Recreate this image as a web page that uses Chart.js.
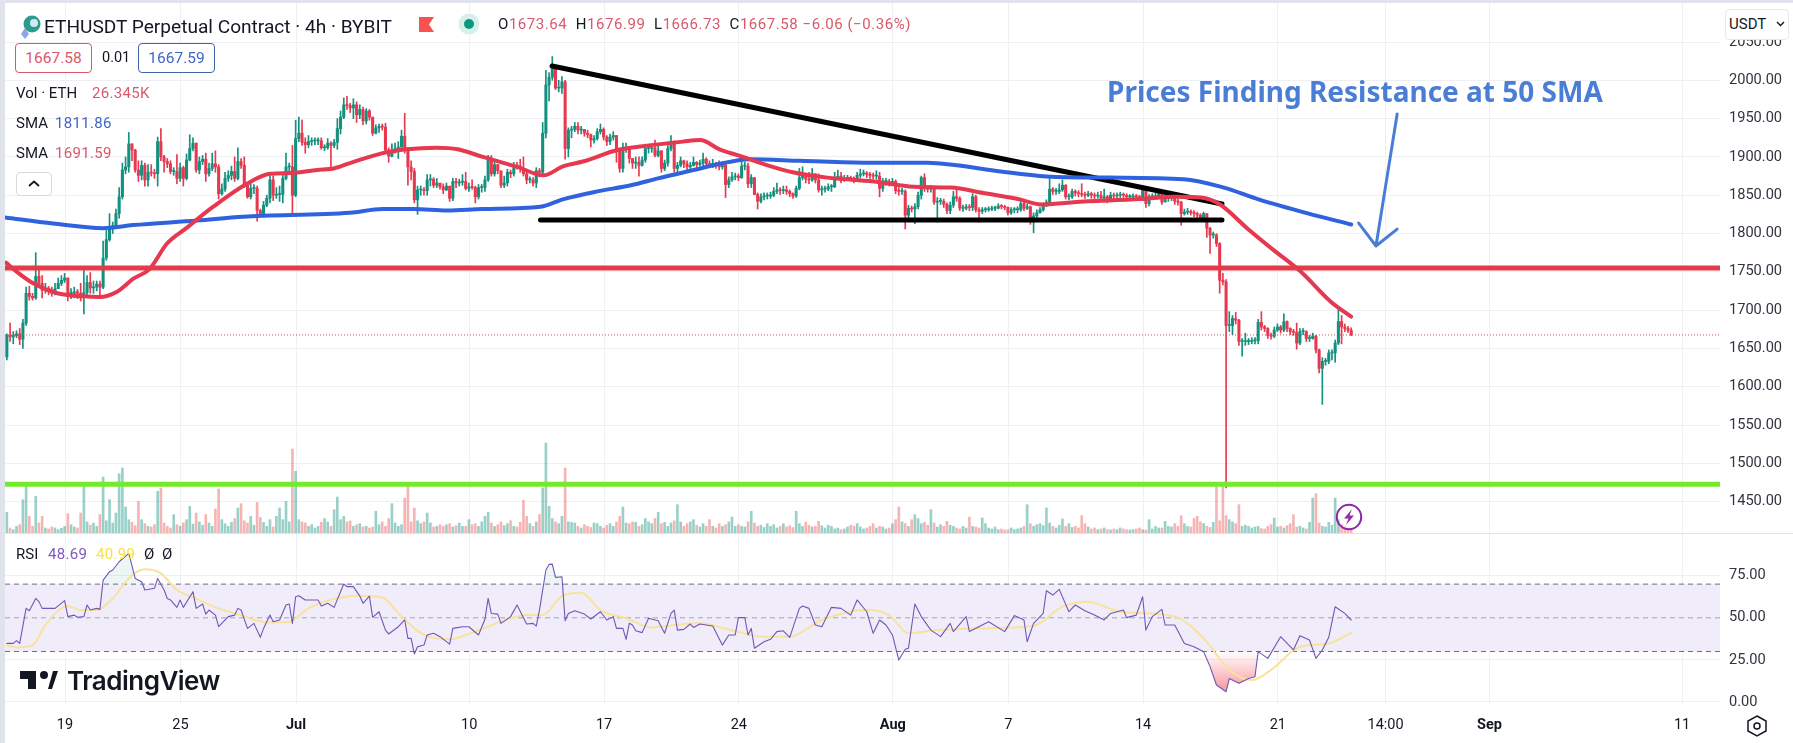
<!DOCTYPE html>
<html>
<head>
<meta charset="utf-8">
<title>ETHUSDT 4h</title>
<script src="https://cdn.jsdelivr.net/npm/chart.js@4"></script>
<style>
  html, body { margin: 0; padding: 0; background: #fff; }
  #page { position: relative; width: 1793px; height: 743px; overflow: hidden; font-family: Roboto, sans-serif; color: #131722; }
  canvas { position: absolute; left: 0; }
  #edgeLeft { position: absolute; left: 0; top: 0; width: 5px; height: 743px; background: #e0e3eb; }
  #edgeTop { position: absolute; left: 0; top: 0; width: 1793px; height: 3px; background: #e0e3eb; }
  #paneLine { position: absolute; left: 5px; top: 533px; width: 1788px; height: 1px; background: #e0e3eb; }
  .t { position: absolute; white-space: nowrap; line-height: 1; }
  .box { position: absolute; box-sizing: border-box; background: #fff; border-radius: 4px; text-align: center; font-size: 15.5px; line-height: 28px; }
  .red { color: #d9596a; }
  .blue { color: #3f66c4; }
  svg { position: absolute; overflow: visible; }
</style>
</head>
<body>
<div id="page">
  <canvas id="priceChart" width="1793" height="533" style="top:0"></canvas>
  <canvas id="rsiChart" width="1793" height="210" style="top:533px"></canvas>
  <div id="edgeLeft"></div><div id="edgeTop"></div><div id="paneLine"></div>

  <svg style="left:19px;top:14px" width="22" height="24"><circle cx="13" cy="10" r="8.5" fill="#2a9d8f"/><circle cx="15" cy="9" r="4" fill="#cfe9f5"/><path d="M6 14 L10 20 L6 25 L2 20 Z" fill="#8ea5e8"/></svg>
  <div class="t" style="left:44px;top:17px;font-size:19.1px">ETHUSDT Perpetual Contract · 4h · BYBIT</div>
  <svg style="left:419px;top:17px" width="16" height="15"><path d="M0 0 H15 L10 7.5 L15 15 H0 Z" fill="#f7524f"/></svg>
  <svg style="left:458px;top:13px" width="22" height="22"><circle cx="11" cy="11" r="10.5" fill="#d9efec"/><circle cx="11" cy="11" r="5" fill="#089981"/></svg>
  <div class="t" style="left:498px;top:17px;font-size:15px;letter-spacing:.55px">O<span class="red">1673.64</span>&nbsp; H<span class="red">1676.99</span>&nbsp; L<span class="red">1666.73</span>&nbsp; C<span class="red">1667.58</span> <span class="red">−6.06 (−0.36%)</span></div>

  <div class="box red" style="left:15px;top:43px;width:77px;height:30px;border:1px solid #d9596a">1667.58</div>
  <div class="t" style="left:102px;top:51px;font-size:14.5px">0.01</div>
  <div class="box blue" style="left:138px;top:43px;width:77px;height:30px;border:1px solid #3f66a4">1667.59</div>
  <div class="t" style="left:16px;top:86px;font-size:15px">Vol · ETH</div>
  <div class="t red" style="left:92px;top:86px;font-size:15px;letter-spacing:.3px">26.345K</div>
  <div class="t" style="left:16px;top:116px;font-size:15px">SMA</div>
  <div class="t blue" style="left:55px;top:116px;font-size:15px;letter-spacing:.3px">1811.86</div>
  <div class="t" style="left:16px;top:146px;font-size:15px">SMA</div>
  <div class="t red" style="left:55px;top:146px;font-size:15px;letter-spacing:.3px">1691.59</div>
  <div class="box" style="left:16px;top:172px;width:36px;height:24px;border:1px solid #d8dae0"></div>
  <svg style="left:28px;top:180px" width="12" height="8"><path d="M1 6 L6 1.5 L11 6" fill="none" stroke="#131722" stroke-width="1.8"/></svg>

  <div class="box" style="left:1725px;top:9px;width:64px;height:31px;border:1px solid #e6e8ee"></div>
  <div class="t" style="left:1729px;top:17px;font-size:15px">USDT</div>
  <svg style="left:1776px;top:21px" width="9" height="6"><path d="M1 1 L4.5 4.5 L8 1" fill="none" stroke="#131722" stroke-width="1.4"/></svg>

  <div class="t" id="callout" style="left:1107px;top:77px;font-size:28px;font-weight:700;color:#4a7ed6;font-family:'Noto Sans',sans-serif">Prices Finding Resistance at 50 SMA</div>

  <svg style="left:1336px;top:504px" width="26" height="26"><circle cx="13" cy="13" r="12.2" fill="none" stroke="#8e24aa" stroke-width="2"/><path d="M16 5 L8 14.5 H12.5 L10 21 L18 11.5 H13.5 Z" fill="#9c27b0"/></svg>

  <div class="t" style="left:16px;top:547px;font-size:15px">RSI</div>
  <div class="t" style="left:48px;top:547px;font-size:15px;letter-spacing:.3px;color:#7e57c2">48.69</div>
  <div class="t" style="left:96px;top:547px;font-size:15px;letter-spacing:.3px;color:#f5e342">40.99</div>
  <div class="t" style="left:144px;top:547px;font-size:15px">Ø</div>
  <div class="t" style="left:162px;top:547px;font-size:15px">Ø</div>

  <svg style="left:20px;top:671px" width="38" height="20"><path d="M0 0 H16 V18 H8 V8 H0 Z M24 0 A4 4 0 1 1 24 8 A4 4 0 1 1 24 0 Z M28 18 L33 0 H38 L32 18 Z" fill="#131722"/></svg>
  <div class="t" style="left:67px;top:668px;font-size:26px;font-weight:600;font-family:Inter,sans-serif;letter-spacing:-.5px">TradingView</div>

  <svg style="left:1746px;top:715px" width="22" height="22"><path d="M11 1 L20 6 V16 L11 21 L2 16 V6 Z" fill="none" stroke="#131722" stroke-width="1.5"/><circle cx="11" cy="11" r="3" fill="none" stroke="#131722" stroke-width="1.5"/></svg>
</div>

<script>
// 4h candles, one every sixth of a day
const firstCandleDay = -3.02;
const firstOpen = 1639;

const closes = [
  1667,1665,1667,1669,1662,1683,1722,1718,1716,1744,
  1735,1726,1728,1726,1722,1728,1735,1739,1742,1722,
  1722,1724,1722,1720,1723,1736,1729,1730,1734,1730,
  1768,1792,1809,1810,1826,1848,1883,1887,1917,1909,
  1883,1876,1889,1870,1880,1879,1878,1920,1900,1894,
  1891,1881,1881,1872,1886,1872,1896,1911,1918,1883,
  1894,1897,1878,1885,1891,1887,1852,1858,1872,1876,
  1881,1872,1894,1889,1863,1848,1859,1859,1830,1826,
  1837,1846,1870,1850,1851,1851,1872,1887,1887,1850,
  1924,1931,1919,1916,1920,1921,1921,1921,1912,1912,
  1918,1915,1919,1937,1952,1968,1967,1964,1968,1955,
  1962,1947,1960,1952,1931,1938,1940,1939,1909,1901,
  1909,1911,1913,1927,1911,1887,1881,1844,1857,1857,
  1856,1870,1871,1863,1866,1861,1857,1862,1846,1868,
  1866,1867,1868,1859,1861,1860,1848,1860,1860,1870,
  1898,1878,1890,1882,1863,1866,1880,1878,1889,1888,
  1885,1878,1870,1870,1866,1882,1880,1931,1994,2004,
  2018,1990,1990,1998,1911,1935,1936,1940,1935,1936,
  1931,1929,1922,1924,1933,1936,1926,1920,1926,1928,
  1909,1885,1911,1912,1898,1892,1893,1889,1896,1911,
  1911,1912,1902,1908,1885,1892,1911,1920,1885,1889,
  1895,1891,1887,1889,1893,1890,1892,1897,1891,1890,
  1890,1889,1887,1890,1864,1870,1874,1875,1873,1888,
  1888,1865,1873,1851,1842,1848,1849,1849,1850,1855,
  1857,1856,1857,1855,1852,1849,1859,1873,1876,1871,
  1870,1878,1870,1857,1858,1858,1861,1861,1873,1875,
  1869,1872,1873,1872,1870,1876,1878,1879,1877,1876,
  1875,1875,1859,1868,1868,1866,1868,1856,1855,1855,
  1824,1833,1832,1835,1850,1873,1859,1858,1859,1841,
  1842,1842,1838,1830,1837,1848,1846,1833,1833,1835,
  1834,1848,1831,1829,1831,1831,1832,1833,1833,1836,
  1835,1834,1827,1831,1831,1831,1839,1833,1835,1815,
  1823,1827,1831,1837,1841,1858,1855,1855,1857,1863,
  1848,1848,1855,1853,1852,1851,1850,1852,1850,1849,
  1850,1846,1848,1844,1850,1849,1850,1851,1850,1848,
  1848,1849,1848,1847,1859,1839,1848,1848,1849,1852,
  1841,1846,1846,1846,1842,1841,1826,1828,1829,1827,
  1826,1824,1820,1826,1807,1798,1798,1787,1739,1737,
  1680,1680,1689,1687,1659,1659,1659,1659,1660,1660,
  1684,1678,1676,1667,1666,1674,1678,1674,1685,1676,
  1672,1671,1657,1672,1672,1663,1663,1666,1648,1624,
  1633,1633,1644,1644,1657,1685,1678,1676,1673.64,1667.58
];
const highs = [
  1669,1683,1672,1673,1676,1688,1730,1731,1722,1775,
  1752,1745,1735,1731,1730,1735,1742,1745,1748,1742,
  1728,1730,1727,1735,1752,1745,1749,1738,1738,1738,
  1790,1804,1826,1815,1832,1860,1892,1900,1932,1917,
  1910,1895,1895,1892,1890,1890,1884,1926,1937,1902,
  1898,1895,1886,1903,1892,1888,1904,1929,1925,1918,
  1900,1902,1905,1892,1905,1908,1890,1865,1880,1882,
  1888,1900,1912,1898,1900,1866,1866,1864,1862,1832,
  1842,1850,1875,1875,1860,1862,1880,1905,1892,1915,
  1948,1952,1948,1925,1928,1925,1925,1925,1925,1916,
  1924,1920,1923,1950,1960,1977,1979,1970,1976,1972,
  1968,1965,1963,1962,1952,1942,1943,1943,1944,1912,
  1917,1918,1920,1935,1957,1912,1895,1885,1862,1862,
  1860,1877,1877,1873,1872,1865,1865,1866,1860,1872,
  1872,1871,1877,1880,1866,1870,1862,1864,1864,1875,
  1902,1902,1895,1890,1878,1875,1884,1883,1893,1893,
  1897,1900,1880,1874,1873,1886,1885,1945,2013,2010,
  2031,2012,2000,2005,2000,1938,1940,1945,1945,1940,
  1936,1935,1930,1928,1937,1943,1938,1928,1930,1933,
  1928,1909,1918,1918,1913,1898,1900,1900,1900,1914,
  1915,1916,1922,1918,1908,1896,1915,1928,1921,1893,
  1900,1896,1895,1893,1900,1894,1896,1905,1899,1895,
  1897,1893,1895,1894,1888,1874,1880,1879,1878,1897,
  1893,1892,1877,1873,1853,1852,1853,1853,1854,1860,
  1866,1860,1862,1862,1857,1853,1862,1885,1887,1878,
  1880,1885,1878,1878,1862,1862,1865,1864,1880,1883,
  1880,1876,1876,1875,1874,1880,1884,1883,1881,1880,
  1879,1882,1880,1872,1872,1871,1872,1870,1860,1859,
  1857,1837,1836,1839,1854,1875,1878,1862,1863,1860,
  1847,1846,1845,1840,1841,1855,1860,1848,1837,1838,
  1838,1852,1850,1834,1834,1834,1835,1836,1836,1839,
  1838,1837,1835,1834,1834,1835,1842,1842,1838,1836,
  1827,1831,1834,1840,1844,1874,1860,1859,1865,1870,
  1864,1852,1858,1857,1856,1865,1854,1855,1854,1853,
  1854,1855,1858,1850,1854,1853,1853,1854,1853,1852,
  1851,1852,1851,1850,1862,1860,1851,1852,1853,1855,
  1853,1850,1850,1849,1847,1845,1842,1832,1833,1831,
  1830,1828,1826,1828,1826,1808,1802,1800,1788,1748,
  1740,1698,1693,1697,1688,1663,1670,1663,1664,1664,
  1688,1698,1680,1677,1670,1678,1682,1680,1695,1686,
  1677,1675,1683,1676,1676,1673,1667,1670,1667,1649,
  1638,1637,1648,1648,1661,1703,1693,1682,1679,1676.99
];
const lows = [
  1635,1659,1656,1664,1655,1650,1680,1713,1713,1714,
  1730,1716,1722,1720,1718,1720,1728,1732,1736,1712,
  1715,1716,1715,1712,1695,1718,1722,1722,1725,1715,
  1728,1765,1790,1800,1810,1820,1845,1878,1880,1895,
  1880,1868,1870,1862,1862,1875,1872,1862,1895,1880,
  1886,1878,1876,1865,1868,1862,1870,1895,1908,1880,
  1878,1890,1868,1875,1882,1880,1845,1850,1855,1868,
  1870,1868,1870,1885,1860,1846,1845,1852,1816,1822,
  1826,1835,1840,1843,1846,1842,1840,1870,1880,1826,
  1848,1920,1915,1905,1912,1915,1916,1916,1910,1908,
  1910,1885,1912,1910,1930,1950,1962,1958,1950,1945,
  1950,1942,1943,1948,1928,1930,1932,1935,1905,1893,
  1900,1905,1898,1910,1905,1863,1870,1840,1825,1850,
  1850,1850,1862,1860,1860,1858,1852,1856,1842,1843,
  1860,1862,1863,1857,1855,1858,1840,1845,1854,1855,
  1868,1875,1875,1878,1860,1860,1862,1873,1875,1884,
  1880,1875,1865,1866,1862,1860,1874,1878,1925,1973,
  2000,1988,1985,1983,1897,1900,1925,1933,1930,1930,
  1927,1925,1913,1918,1922,1930,1922,1915,1916,1922,
  1893,1880,1880,1906,1892,1885,1885,1875,1888,1893,
  1905,1906,1900,1900,1880,1882,1888,1908,1880,1877,
  1887,1886,1883,1885,1888,1886,1888,1888,1887,1886,
  1886,1885,1883,1884,1847,1860,1868,1870,1869,1872,
  1883,1860,1860,1851,1832,1840,1844,1845,1846,1848,
  1852,1851,1852,1851,1848,1846,1847,1857,1870,1866,
  1865,1868,1866,1854,1850,1854,1856,1855,1860,1870,
  1866,1868,1869,1869,1866,1868,1873,1875,1873,1872,
  1871,1871,1848,1855,1863,1862,1863,1852,1850,1851,
  1806,1820,1828,1813,1832,1845,1855,1854,1854,1838,
  1815,1838,1834,1826,1826,1834,1842,1830,1829,1831,
  1830,1830,1828,1815,1826,1828,1829,1830,1830,1832,
  1832,1831,1824,1825,1827,1827,1829,1830,1831,1812,
  1801,1820,1827,1829,1835,1838,1851,1851,1852,1855,
  1845,1844,1846,1849,1848,1848,1846,1848,1846,1845,
  1846,1842,1844,1840,1842,1845,1846,1847,1847,1845,
  1845,1846,1845,1844,1845,1834,1836,1844,1845,1848,
  1838,1842,1842,1843,1838,1837,1811,1824,1825,1824,
  1822,1820,1816,1818,1795,1774,1794,1783,1722,1733,
  1468,1672,1668,1682,1654,1640,1654,1655,1656,1656,
  1656,1674,1672,1663,1662,1664,1672,1670,1672,1672,
  1668,1667,1649,1655,1668,1659,1659,1662,1644,1618,
  1577,1628,1630,1635,1632,1655,1656,1672,1671,1666.73
];
// thousands of ETH per candle
const volumes = [
  186,45,30,60,75,300,420,150,60,330,
  90,150,45,36,54,45,30,42,60,174,
  75,54,45,180,450,100,72,90,60,165,
  504,110,300,90,180,534,585,234,120,96,
  66,285,120,84,60,54,75,375,405,90,
  60,45,165,75,60,90,120,240,80,180,
  100,70,165,90,60,216,396,120,84,60,
  96,130,225,264,110,90,150,70,276,140,
  96,60,120,54,150,225,120,285,100,756,
  555,120,100,90,60,75,45,60,96,130,
  100,60,210,324,120,150,100,108,60,75,
  84,54,60,45,54,195,75,100,60,130,
  264,90,60,75,315,435,100,225,110,84,
  100,180,90,54,60,75,60,75,84,54,
  66,90,60,60,120,75,84,60,100,150,
  186,90,60,75,100,66,84,110,60,54,
  96,294,150,84,60,100,165,405,810,240,
  130,100,84,150,585,100,96,90,60,45,
  75,60,50,90,84,60,45,70,84,60,
  100,150,234,90,84,100,96,60,75,130,
  100,84,130,186,84,96,60,90,110,255,
  100,60,84,100,120,70,54,84,60,120,
  60,45,84,60,75,100,144,60,75,60,
  54,100,195,90,60,70,50,84,60,75,
  45,60,84,54,66,50,195,84,60,100,
  70,54,60,105,66,45,70,60,36,45,
  30,36,54,70,60,84,54,36,45,60,
  84,45,60,54,36,45,84,120,234,100,
  84,60,120,165,130,84,96,70,210,90,
  54,75,60,105,70,60,45,36,60,45,
  144,60,54,45,135,84,45,36,54,30,
  36,27,30,45,30,36,45,60,255,84,
  60,75,84,66,225,90,60,45,70,126,
  60,84,50,60,45,156,84,54,36,45,
  30,36,45,30,27,36,30,45,36,30,
  27,30,36,45,30,27,120,36,60,45,
  45,105,60,54,84,60,156,84,60,54,
  130,150,100,84,60,50,96,450,110,435,
  156,120,100,84,255,60,70,60,45,54,
  60,40,36,60,75,135,54,60,45,66,
  84,165,54,60,45,36,96,315,354,90,
  60,54,96,70,315,120,75,54,36,26.345
];

const sma200Days = [-3.12,-0.62,1.98,3.53,6.86,9.25,14.8,16.5,18.1,19.85,21.7,24.7,25.9,27.65,29.4,30.8,33,34,35.6,38.2,41.7,44.8,46.2,48.6,51,54.2,58.1,60.2,62,64.6,66.81];
const sma200 = [1821,1813,1807,1811,1817,1822,1827,1832,1832,1830,1832,1835,1845,1855,1863,1872,1885,1891,1897,1895,1892.5,1892.5,1889.5,1881,1874.5,1873,1871,1860,1844.6,1826,1811.86];
const sma50Days = [-3.07,-2.5,-1.65,-0.4,0.95,1.8,2.7,3.55,4.4,5.3,6.3,7.7,9.45,10.65,11.7,13.1,13.95,14.8,16.5,17.75,19.3,20.4,21.7,23.5,24.85,25.9,26.9,28.7,30,32.1,33,34,35.1,36.5,37.8,39.6,42,44.1,46,47.7,49.5,50.7,52.4,55.9,57.6,59,60,61.4,62.8,64.2,65.75,66.81];
const sma50 = [1762,1750,1735,1722,1718,1717,1724,1741,1754,1787,1807,1835,1865,1878,1879,1883,1885,1892,1905,1910,1912,1910,1900,1887,1876,1888,1894,1909,1914,1920,1922,1910,1901,1889,1880,1873,1868,1861,1860,1853,1845,1838,1841,1845,1848,1847,1838,1807,1778,1750,1711,1691.59];

// candle numbers and readings for the RSI line
const rsiAt = [0,2,3,4,6,7,9,10,11,15,18,19,21,22,24,25,26,28,29,30,32,33,35,38,40,42,43,46,47,49,50,51,53,54,55,58,59,61,62,63,65,66,69,71,72,73,75,77,79,80,82,83,85,87,88,89,90,91,93,97,98,100,102,105,106,108,110,111,113,114,116,118,119,122,124,125,126,127,128,130,131,133,135,138,139,142,144,147,149,150,151,153,154,157,159,162,164,165,166,168,169,170,171,173,174,175,177,180,182,185,187,189,190,192,193,194,195,196,198,200,203,205,207,208,209,211,213,214,216,220,223,225,227,228,230,231,232,233,236,238,240,242,244,247,248,250,252,254,257,260,263,265,268,270,272,274,276,278,280,281,283,285,288,291,294,295,299,300,306,311,314,317,318,320,323,324,326,328,331,333,336,339,342,344,348,349,352,354,355,357,360,361,364,367,370,373,375,377,380,381,384,387,389,390,393,397,401,403,406,408,410,412,414,417,419];
const rsi = [34.8,34.8,36.4,34.8,55.6,54.2,61.5,59.6,55.6,55.6,60.2,50.7,51.6,50.3,50.7,57.6,54.6,55.6,55,72.4,77.4,78.4,83.3,88.3,73.4,71.4,66.5,67.5,73.4,66.5,61.5,60.6,56.2,60.6,56.2,65.5,55.6,58.2,52.2,54.6,51.6,44.7,50.7,51.6,55.6,54.6,43.7,46.7,38.4,43.7,51.6,47.7,48.7,57.6,58.2,46.7,62.5,63.1,60.6,60.6,57,58.6,56.2,70.1,68.5,68.5,62.9,58.6,62.9,50.3,53.6,42.7,40.4,44.7,48.7,37.8,37.8,28.5,32.8,33.8,39.8,40.8,38.8,34.4,43.7,44.7,44.7,39.8,49.1,61.5,52.6,52.2,46.7,50.7,57.6,46.3,46.7,45.1,54.6,78.4,81.7,81.9,74,74.4,48.3,52.6,54.2,52.2,49.3,53.6,48.7,50.7,43.7,43.7,37.2,46.7,45.7,42.3,41.2,49.7,48.3,40.8,52.6,54.6,42.7,43.1,46.3,44.3,46.3,45.1,33.8,39.8,39.8,50.1,50.1,39.8,43.7,31.9,35.8,37.2,41.8,42.3,38.4,55.6,57,55.6,45.7,44.7,56.2,55.6,51.6,60.6,53.6,40.8,48.7,45.7,39.8,24.9,31.3,31.9,58.2,50.7,42.7,38.8,46.7,41.8,50.7,41.8,47.7,41.8,51.3,48.7,35.8,46.7,52.6,66.1,63.5,66.9,53.6,57.6,54.2,51.6,48.7,52.6,54.6,50.1,51.6,62.5,42.7,50.7,55,45.7,45.7,34.8,32.8,29.9,21,10.1,6.1,14,11.1,14,15,29.9,25.9,38.8,30.9,39.4,36.8,25.9,30.9,38.4,56.6,52.6,48.69];
const rsiMaAt = [0,3,8,12,16,19,23,28,33,38,43,48,53,58,65,73,81,88,94,99,109,117,123,130,138,145,154,162,167,173,179,185,193,201,208,216,225,236,244,254,268,275,281,290,303,320,329,337,347,364,373,381,388,394,403,412,419];
const rsiMa = [33.8,32.4,33.8,45.7,54.2,57,54.6,54.6,61.5,73.4,78.8,76.4,66.5,62.2,56.2,51.6,47.3,47.7,55.6,59.6,63.1,62,50.7,39.8,37.2,41.2,47.7,51.6,51.6,63,64.9,54.6,49.7,44.3,45.7,46.7,43.1,38.8,38.8,48.7,54.6,51.6,40.8,42.7,43.7,45.3,56.6,59.6,53.6,50.7,37.8,19,13,19,32.8,34.8,40.99];

const priceTicks = [1450,1500,1550,1600,1650,1700,1750,1800,1850,1900,1950,2000,2050];
const rsiTicks = [0,25,50,75];
const dayTicks = [0,6,12,21,28,35,43,49,56,63,68.6,74,84];
const dayLabels = ["19","25","Jul","10","17","24","Aug","7","14","21","14:00","Sep","11"];
const boldLabels = ["Jul","Aug","Sep"];

const lastPrice = 1667.58;
const resistance = 1755;
const support = 1472.6;
const floorLine = 1817.6;
const trendDays = [25.3,60.1];
const trendPrices = [2018.7,1838.5];
const floorDays = [24.7,60.1];
const arrowDays = [69.2,68.1,67.2,68.1,69.2];
const arrowPrices = [1956,1783.7,1813.7,1783.7,1805.8];

const colors = {
  up: "#14907f",
  down: "#e8384f",
  upVol: "rgba(34,150,135,0.45)",
  downVol: "rgba(235,90,90,0.45)",
  sma50: "#e63950",
  sma200: "#2f62dd",
  level: "#e23c4a",
  green: "#74ea2c",
  arrow: "#4a7ed6",
  grid: "#eef0f4",
  rsi: "#7256b4",
  rsiMa: "#f7e39c",
};

const xMin = -3.117;
const xMax = 85.97;
const rsiMin = -1.19;
const rsiMax = 100.36;
const dayOf = (i) => firstCandleDay + i / 6;
const opens = closes.map((c, i) => (i === 0 ? firstOpen : closes[i - 1]));
const rising = closes.map((c, i) => c >= opens[i]);
const candleColors = rising.map((up) => (up ? colors.up : colors.down));
const pairs = (xs, ys) => xs.map((x, i) => ({ x, y: ys[i] }));
const flat = (a, b, y) => [{ x: a, y }, { x: b, y }];

function lineSet(data, color, width, extra) {
  return {
    type: "line",
    data,
    borderColor: color,
    borderWidth: width,
    pointRadius: 0,
    tension: 0,
    fill: false,
    borderCapStyle: "round",
    borderJoinStyle: "round",
    yAxisID: "y",
    ...extra,
  };
}

function noPadding(scale) {
  scale.paddingTop = 0;
  scale.paddingBottom = 0;
  scale.paddingLeft = 0;
  scale.paddingRight = 0;
}

function xScale(showLabels) {
  return {
    type: "linear",
    offset: false,
    min: xMin,
    max: xMax,
    border: { display: false },
    grid: { color: colors.grid, drawTicks: false, offset: false },
    afterBuildTicks(scale) {
      scale.ticks = dayTicks.map((value) => ({ value }));
    },
    afterFit(scale) {
      scale.height = showLabels ? 39 : 0;
      noPadding(scale);
    },
    ticks: {
      display: showLabels,
      autoSkip: false,
      maxRotation: 0,
      padding: 13,
      color: "#131722",
      font: (ctx) => ({
        family: "Roboto",
        size: 14.5,
        weight: ctx.tick && boldLabels.includes(dayLabels[dayTicks.indexOf(ctx.tick.value)]) ? "bold" : "normal",
      }),
      callback: (value) => dayLabels[dayTicks.indexOf(value)],
    },
  };
}

function yScale(min, max, tickValues) {
  return {
    position: "right",
    min,
    max,
    border: { display: false },
    grid: { color: colors.grid, drawTicks: false },
    afterBuildTicks(scale) {
      scale.ticks = tickValues.map((value) => ({ value }));
    },
    afterFit(scale) {
      scale.width = 73;
      noPadding(scale);
    },
    ticks: {
      padding: 9,
      color: "#30343f",
      font: { family: "Roboto", size: 14.6 },
      callback: (value) => value.toFixed(2),
    },
  };
}

const baseOptions = {
  responsive: false,
  animation: false,
  devicePixelRatio: 1,
  plugins: { legend: { display: false }, tooltip: { enabled: false } },
};

new Chart(document.querySelector("#priceChart"), {
  type: "bar",
  data: {
    datasets: [
      {
        data: volumes.map((v, i) => ({ x: dayOf(i), y: v })),
        backgroundColor: rising.map((up) => (up ? colors.upVol : colors.downVol)),
        barThickness: 2,
        yAxisID: "volume",
        order: 9,
      },
      {
        data: closes.map((c, i) => ({ x: dayOf(i), y: [lows[i], highs[i]] })),
        backgroundColor: candleColors,
        barThickness: 1,
        order: 8,
      },
      {
        data: closes.map((c, i) => ({ x: dayOf(i), y: [opens[i], c] })),
        backgroundColor: candleColors,
        barThickness: 2.4,
        minBarLength: 1,
        order: 7,
      },
      lineSet(flat(xMin, xMax, lastPrice), "#b5545f", 1, { borderDash: [1, 2], borderCapStyle: "butt", order: 6 }),
      lineSet(pairs(floorDays, [floorLine, floorLine]), "#000", 5, { order: 5 }),
      lineSet(pairs(trendDays, trendPrices), "#000", 5, { order: 5 }),
      lineSet(pairs(sma200Days, sma200), colors.sma200, 4, { cubicInterpolationMode: "monotone", order: 4 }),
      lineSet(pairs(sma50Days, sma50), colors.sma50, 4, { cubicInterpolationMode: "monotone", order: 3 }),
      lineSet(flat(xMin, xMax, resistance), colors.level, 5, { borderCapStyle: "butt", order: 2 }),
      lineSet(flat(xMin, xMax, support), colors.green, 5, { borderCapStyle: "butt", order: 2 }),
      lineSet(pairs(arrowDays, arrowPrices), colors.arrow, 3, { order: 1 }),
    ],
  },
  options: {
    ...baseOptions,
    layout: { padding: { left: 5, top: 3, right: 0, bottom: 0 } },
    datasets: { bar: { grouped: false } },
    scales: {
      x: xScale(false),
      y: yScale(1409, 2101, priceTicks),
      volume: { display: false, min: 0, max: 4770 },
    },
  },
});

// oversold shading fades in towards the bottom of the pane
const rsiCanvas = document.querySelector("#rsiChart");
const rsiPixel = (v) => ((rsiMax - v) / (rsiMax - rsiMin)) * 171;
const oversoldFill = rsiCanvas.getContext("2d").createLinearGradient(0, rsiPixel(30), 0, rsiPixel(5));
oversoldFill.addColorStop(0, "rgba(242,54,69,0)");
oversoldFill.addColorStop(1, "rgba(242,54,69,0.55)");

new Chart(rsiCanvas, {
  type: "line",
  data: {
    datasets: [
      lineSet(flat(xMin, xMax, 70), "#6d6d80", 1, { borderDash: [5, 4], borderCapStyle: "butt", fill: { target: { value: 30 }, above: "#f0ecf9", below: "#f0ecf9" }, order: 6 }),
      lineSet(flat(xMin, xMax, 50), "#a5a5b2", 1, { borderDash: [5, 4], borderCapStyle: "butt", order: 5 }),
      lineSet(flat(xMin, xMax, 30), "#6d6d80", 1, { borderDash: [5, 4], borderCapStyle: "butt", order: 5 }),
      lineSet(pairs(rsiAt.map(dayOf), rsi), "transparent", 0, { fill: { target: { value: 30 }, above: "transparent", below: oversoldFill }, order: 4 }),
      lineSet(pairs(rsiAt.map(dayOf), rsi), "transparent", 0, { fill: { target: { value: 70 }, above: "rgba(8,153,129,0.08)", below: "transparent" }, order: 4 }),
      lineSet(pairs(rsiMaAt.map(dayOf), rsiMa), colors.rsiMa, 2, { cubicInterpolationMode: "monotone", order: 2 }),
      lineSet(pairs(rsiAt.map(dayOf), rsi), colors.rsi, 1.1, { order: 1 }),
    ],
  },
  options: {
    ...baseOptions,
    layout: { padding: { left: 5, top: 0, right: 0, bottom: 0 } },
    scales: {
      x: xScale(true),
      y: yScale(rsiMin, rsiMax, rsiTicks),
    },
  },
});
</script>
</body>
</html>
